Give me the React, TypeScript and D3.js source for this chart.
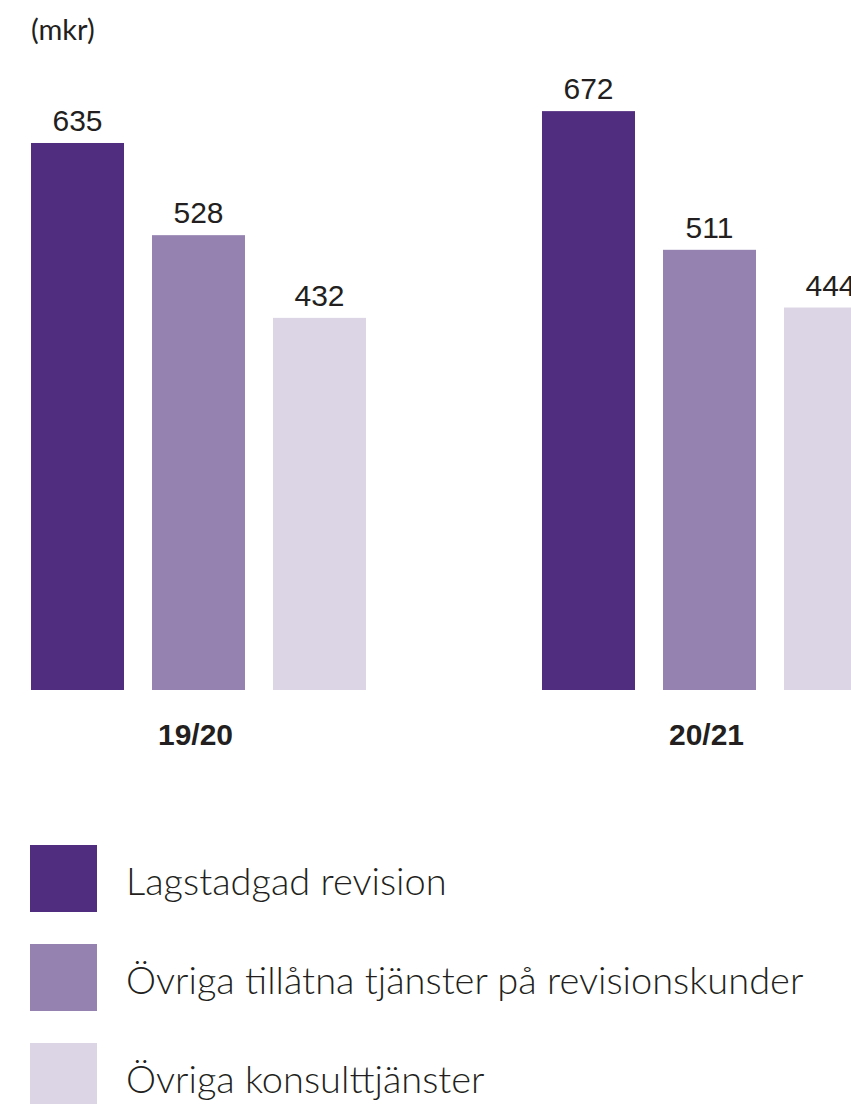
import * as React from "react";
import * as d3 from "d3";

const periods = ["19/20", "20/21"];
const seriesNames = [
  "Lagstadgad revision",
  "Övriga tillåtna tjänster på revisionskunder",
  "Övriga konsulttjänster",
];
const values1920 = [635, 528, 432];
const values2021 = [672, 511, 444];
const unitLabel = "(mkr)";

const COLORS = ["#502d7f", "#9682b1", "#dbd5e6"];
const W = 851;
const H = 1104;
const BASE_Y = 690;

export default function App() {
  const rows = [values1920, values2021];

  const x0 = d3.scaleBand<string>().domain(periods).range([31, 877]).paddingInner(0.3444).paddingOuter(0);
  const x1 = d3
    .scaleBand<string>()
    .domain(seriesNames)
    .range([0, x0.bandwidth()])
    .paddingInner(0.2314)
    .paddingOuter(0);
  const y = d3.scaleLinear().domain([0, 700]).range([BASE_Y, 87]);

  const numFont = "'Liberation Sans', Arial, sans-serif";
  const lightFont = "Lato, 'Open Sans', sans-serif";

  return (
    <div style={{ position: "absolute", left: 0, top: 0 }}>
      <svg width={W} height={H} style={{ display: "block", background: "#fff" }}>
        <text x={31} y={40} fontFamily={lightFont} fontSize={29} fill="#231f20">
          {unitLabel}
        </text>

        {periods.map((p, pi) => (
          <g key={p} transform={`translate(${x0(p)},0)`}>
            {seriesNames.map((s, si) => {
              const v = rows[pi][si];
              const bx = x1(s)!;
              const bw = x1.bandwidth();
              return (
                <g key={s}>
                  <rect x={bx} y={y(v)} width={bw} height={BASE_Y - y(v)} fill={COLORS[si]} />
                  <text
                    x={bx + bw / 2}
                    y={y(v) - 12}
                    textAnchor="middle"
                    fontFamily={numFont}
                    fontSize={30}
                    fill="#231f20"
                  >
                    {v}
                  </text>
                </g>
              );
            })}
            <text
              x={x0.bandwidth() / 2 - 3}
              y={745}
              textAnchor="middle"
              fontFamily={numFont}
              fontWeight={700}
              fontSize={30}
              fill="#231f20"
            >
              {p}
            </text>
          </g>
        ))}

        {/* Legend */}
        {seriesNames.map((s, i) => (
          <g key={`lg-${s}`} transform={`translate(30,${845 + i * 99})`}>
            <rect x={0} y={0} width={67} height={67} fill={COLORS[i]} />
            <text x={96} y={50} fontFamily={lightFont} fontWeight={300} fontSize={38} fill="#231f20">
              {s}
            </text>
          </g>
        ))}
      </svg>
    </div>
  );
}
